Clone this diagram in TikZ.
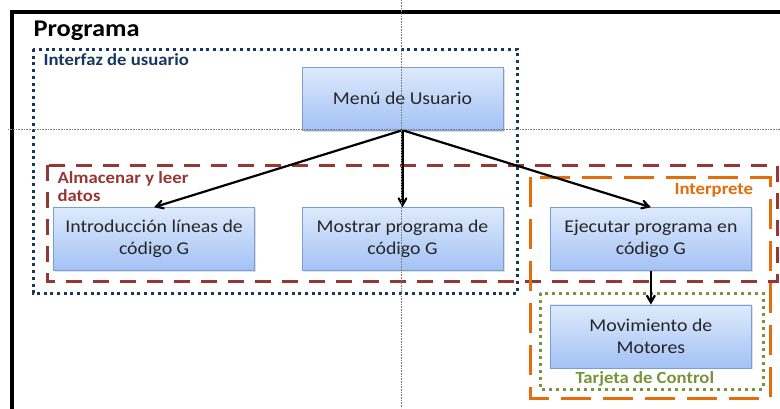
\documentclass[tikz,border=0pt]{standalone}
\usepackage{xcolor}
\usepackage{fontspec}
\setmainfont{Carlito}[FakeStretch=1.1]
\usepackage{tikz}
\usetikzlibrary{arrows,positioning,shadows}

\definecolor{navyline}{RGB}{23,55,94}
\definecolor{redline}{RGB}{149,55,53}
\definecolor{orangeline}{RGB}{228,108,10}
\definecolor{greenline}{RGB}{119,147,60}
\definecolor{boxtop}{RGB}{222,234,252}
\definecolor{boxbot}{RGB}{163,194,245}
\definecolor{boxline}{RGB}{120,158,210}

\begin{document}
\begin{tikzpicture}[x=1pt,y=-1pt,>=angle 60,node distance=47pt,
  main node/.style={rectangle,draw=boxline,top color=boxtop,bottom color=boxbot,
    minimum width=201pt,minimum height=63pt,align=center,text=black!85,
    font=\fontsize{18}{22}\selectfont,
    drop shadow={opacity=0.25,shadow xshift=1.5pt,shadow yshift=-1.5pt}},
  group label/.style={anchor=base west,align=left,font=\fontsize{17}{18.5}\selectfont\bfseries},
  group box/.style={line width=3pt}]
  \useasboundingbox (0,0) rectangle (780,408);

  % frame and groups
  \draw[line width=3.5pt] (12,410) |- (782,12);
  \node[anchor=base west,font=\fontsize{24}{24}\selectfont\bfseries] (programa) at (30,36.5) {Programa};
  \draw[group box,navyline,dash pattern=on 3pt off 3.7pt] (33,49) rectangle (517,293);
  \draw[group box,redline,dash pattern=on 16pt off 11pt] (47,165) rectangle (777,281);
  \draw[group box,orangeline,dash pattern=on 30pt off 12pt] (530,177) rectangle (770,398);
  \draw[group box,greenline,dash pattern=on 3pt off 4pt] (540,293) rectangle (763,389);
  \node[group label,text=navyline] (interfaz) at (40,65.5) {Interfaz de usuario};
  \node[group label,text=redline] (almacenar) at (54,201.5) {Almacenar y leer\\datos};
  \node[group label,text=orangeline] (interprete) at (671,194) {Interprete};
  \node[group label,text=greenline] (tarjeta) at (572,383) {Tarjeta de Control};

  % boxes
  \node[main node] (menu) at (402.5,98.5) {Menú de Usuario};
  \node[main node] (mostrar) [below=77pt of menu] {Mostrar programa de\\código G};
  \node[main node] (intro) [left=of mostrar] {Introducción líneas de\\código G};
  \node[main node] (ejecutar) [right=of mostrar] {Ejecutar programa en\\código G};
  \node[main node] (motores) [below=34pt of ejecutar] {Movimiento de\\Motores};

  \path[->,line width=2.2pt]
  (menu.south) edge (intro.north)
  (menu.south) edge (mostrar.north)
  (menu.south) edge (ejecutar.north)
  (ejecutar) edge (motores);

  % guides
  \draw[gray,densely dotted,line width=0.6pt] (401.5,0) -- (401.5,408);
  \draw[gray,densely dotted,line width=0.6pt] (8,129) -- (780,129);
\end{tikzpicture}
\end{document}
